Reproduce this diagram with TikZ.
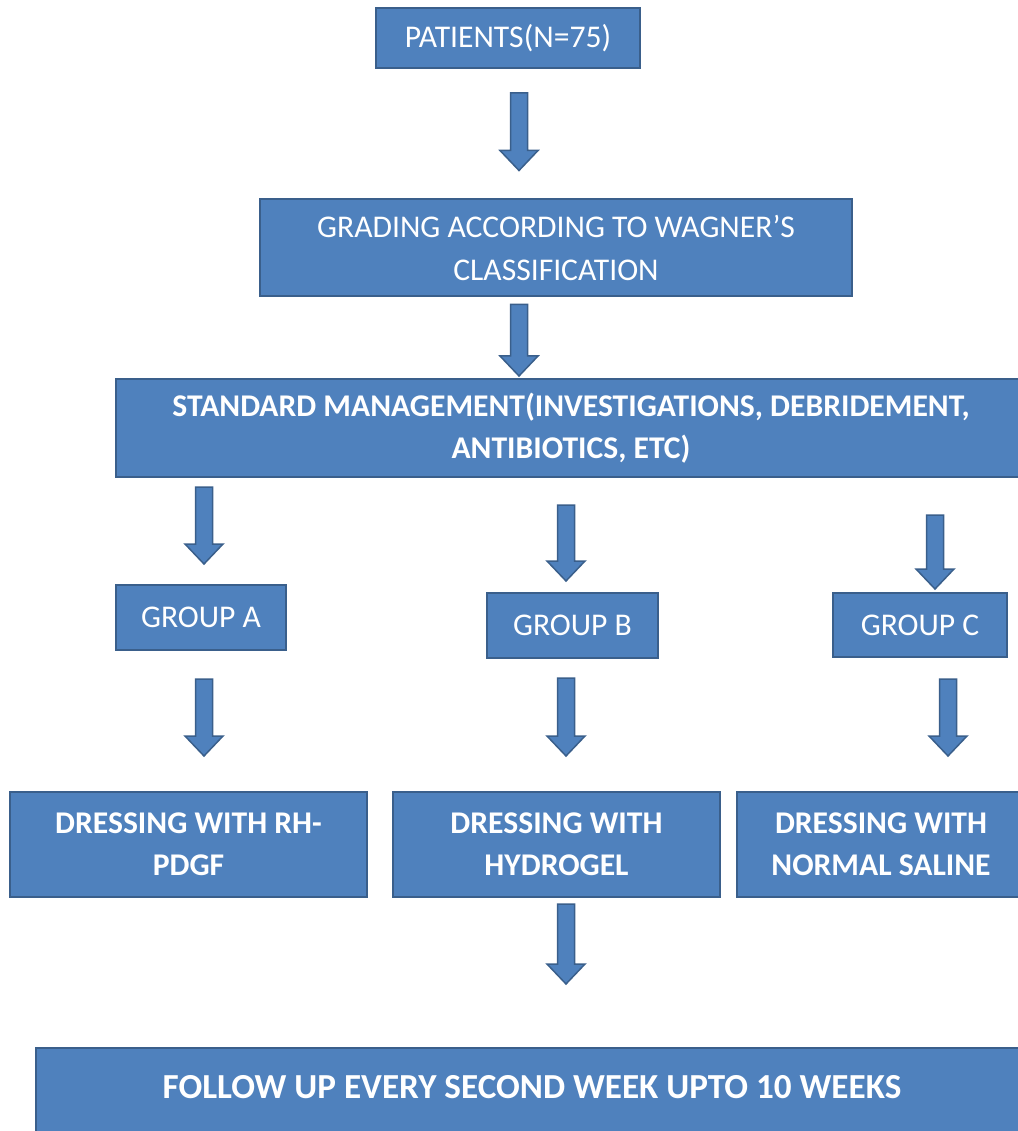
\documentclass[tikz,border=0pt]{standalone}
\usepackage{fontspec}
\setmainfont{Carlito}
\usetikzlibrary{calc}

\definecolor{boxfill}{HTML}{4F81BD}
\definecolor{boxborder}{HTML}{3A5F8B}

\newcommand{\px}{0.02cm}
\newcommand{\arrowshaft}{8.5*\px}
\newcommand{\arrowhead}{19*\px}
\newcommand{\arrowheadlen}{20*\px}

% block arrow going straight down from #1 to the height of #2
\newcommand{\blockarrow}[2]{%
  \draw[arrow look] let \p1=#1, \p2=#2 in
    (\x1-\arrowshaft,\y1) -- (\x1+\arrowshaft,\y1) -- (\x1+\arrowshaft,\y2+\arrowheadlen)
    -- (\x1+\arrowhead,\y2+\arrowheadlen) -- (\x1,\y2) -- (\x1-\arrowhead,\y2+\arrowheadlen)
    -- (\x1-\arrowshaft,\y2+\arrowheadlen) -- cycle;}

\begin{document}
\begin{tikzpicture}[
    x=\px, y=-\px,
    box/.style={draw=boxborder, fill=boxfill, text=white, line width=2*\px,
      inner sep=0pt, align=center, font=\fontsize{18}{24}\selectfont},
    bold box/.style={box, font=\fontsize{18}{24}\selectfont\bfseries},
    arrow look/.style={fill=boxfill, draw=boxborder, line width=1.5*\px}
]

\fill[white] (0,0) rectangle (1017,1131);
\useasboundingbox (0,0) rectangle (1017,1131);

% BOXES
\node[box, minimum width=264*\px, minimum height=60*\px] (patients) at (508,38) {PATIENTS(N=75)};
\node[box, minimum width=592*\px, minimum height=97*\px] (grading) at (556,248) {GRADING ACCORDING TO WAGNER’S\\CLASSIFICATION};
\node[bold box, minimum width=910*\px, minimum height=98*\px] (stdmgmt) at (571,428) {STANDARD MANAGEMENT(INVESTIGATIONS, DEBRIDEMENT,\\ANTIBIOTICS, ETC)};

% Groups
\node[box, minimum width=170*\px, minimum height=65*\px] (grpA) at (201,617.5) {GROUP A};
\node[box, minimum width=171*\px, minimum height=65*\px] (grpB) at (572.5,625.5) {GROUP B};
\node[box, minimum width=174*\px, minimum height=64*\px] (grpC) at (920,625) {GROUP C};

% Dressings
\node[bold box, minimum width=357*\px, minimum height=105*\px] (dressA) at (188.5,844.5) {DRESSING WITH RH-\\PDGF};
\node[bold box, minimum width=327*\px, minimum height=105*\px] (dressB) at (556.5,844.5) {DRESSING WITH\\HYDROGEL};
\node[bold box, minimum width=288*\px, minimum height=105*\px] (dressC) at (881,844.5) {DRESSING WITH\\NORMAL SALINE};

\node[bold box, font=\fontsize{20}{24}\selectfont\bfseries, minimum width=992*\px, minimum height=100*\px,
  text height=0.5em, text depth=0.5em] (follow) at (532,1098) {FOLLOW UP EVERY SECOND WEEK UPTO 10 WEEKS};

% ARROWS
\blockarrow{($(patients.south)+(11,24)$)}{($(grading.north)+(0,-28)$)}
\blockarrow{($(grading.south)+(-37,7)$)}{($(stdmgmt.north)+(0,-2)$)}

\blockarrow{($(stdmgmt.south -| grpA.north)+(3,9)$)}{($(grpA.north)+(3,-20)$)}
\blockarrow{($(stdmgmt.south -| grpB.north)+(-6.5,27)$)}{($(grpB.north)+(-6.5,-11)$)}
\blockarrow{($(stdmgmt.south -| grpC.north)+(15,37)$)}{($(grpC.north)+(15,-3)$)}

\blockarrow{($(grpA.south)+(3,28)$)}{($(dressA.north)+(0,-35)$)}
\blockarrow{($(grpB.south)+(-6.5,19)$)}{($(dressB.north)+(0,-35)$)}
\blockarrow{($(grpC.south)+(28,21)$)}{($(dressC.north)+(0,-35)$)}

\blockarrow{($(dressB.south)+(9.5,6)$)}{($(follow.north)+(0,-63)$)}

\end{tikzpicture}
\end{document}
